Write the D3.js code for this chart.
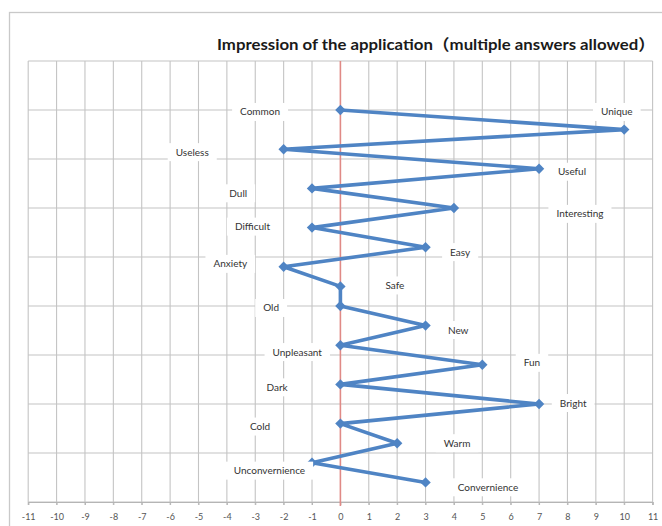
<!DOCTYPE html>
<html>
<head>
<meta charset="utf-8">
<script src="https://cdn.jsdelivr.net/npm/d3@7"></script>
<style>
  html, body { margin: 0; padding: 0; background: #fff; }
  svg { display: block; }
</style>
</head>
<body>
<svg id="chart" width="662" height="526"></svg>
<script>
// Survey answers: word pairs, score per word (negative = left side)
const words = ["Common", "Unique", "Useless", "Useful", "Dull", "Interesting",
  "Difficult", "Easy", "Anxiety", "Safe", "Old", "New", "Unpleasant", "Fun",
  "Dark", "Bright", "Cold", "Warm", "Unconvernience", "Convernience"];
const scores = [0, 10, -2, 7, -1, 4, -1, 3, -2, 0, 0, 3, 0, 5, 0, 7, 0, 2, -1, 3];
// vertical slot of each word on the hidden 0–45 axis
const rows = [40, 38, 36, 34, 32, 30, 28, 26, 24, 22, 20, 18, 16, 14, 12, 10, 8, 6, 4, 2];
const xTicks = d3.range(-11, 12);
const yTicks = d3.range(0, 46, 5);
const title = "Impression of the application（multiple answers allowed）";

const svg = d3.select("#chart");
const x = d3.scaleLinear().domain([-11, 11]).range([28.2, 652.6]);
const y = d3.scaleLinear().domain([0, 45]).range([502, 61]);

// chart-area frame
svg.append("rect")
  .attr("x", 9.5).attr("y", 12.5).attr("width", 700).attr("height", 560)
  .attr("fill", "#fff").attr("stroke", "#c9c9c9").attr("stroke-width", 1.3);

// title
svg.append("text")
  .attr("x", 655).attr("y", 50)
  .attr("text-anchor", "end")
  .attr("font-family", "Lato, 'Noto Sans CJK JP', sans-serif")
  .attr("font-weight", "bold")
  .attr("font-size", 15.5)
  .attr("fill", "#1a1a1a")
  .attr("textLength", 438)
  .attr("lengthAdjust", "spacingAndGlyphs")
  .text(title);

// grid
const grid = svg.append("g").attr("stroke", "#c4c4c4").attr("stroke-width", 1.1);
grid.selectAll("line.v").data(xTicks.filter(d => d !== 0)).join("line")
  .attr("x1", d => x(d)).attr("x2", d => x(d))
  .attr("y1", y(45)).attr("y2", y(0) + 3);
grid.selectAll("line.h").data(yTicks).join("line")
  .attr("x1", x(-11)).attr("x2", x(11))
  .attr("y1", d => y(d)).attr("y2", d => y(d));

// bottom axis
const xAxis = d3.axisBottom(x).tickValues(xTicks).tickSize(3).tickPadding(9)
  .tickFormat(d3.format("d"));
const ax = svg.append("g").attr("transform", `translate(0,${y(0)})`).call(xAxis);
ax.select(".domain").attr("stroke", "#b5b5b5").attr("stroke-width", 1.1);
ax.selectAll(".tick line").attr("stroke", "#b5b5b5");
ax.selectAll(".tick text")
  .attr("font-family", "Lato, sans-serif").attr("font-size", 9)
  .attr("fill", "#555").text(d => d < 0 ? "-" + Math.abs(d) : d);

// zero line
svg.append("line")
  .attr("x1", x(0)).attr("x2", x(0)).attr("y1", y(45)).attr("y2", y(0) + 4)
  .attr("stroke", "#e08a86").attr("stroke-width", 1.6);

// series
const pts = scores.map((s, i) => ({ word: words[i], v: s, r: rows[i] }));
const blue = "#4f84c4";
svg.append("path")
  .datum(pts)
  .attr("fill", "none").attr("stroke", blue).attr("stroke-width", 3.6)
  .attr("stroke-linejoin", "round").attr("stroke-linecap", "round")
  .attr("d", d3.line().x(d => x(d.v)).y(d => y(d.r)));
svg.append("g").selectAll("path").data(pts).join("path")
  .attr("transform", d => `translate(${x(d.v)},${y(d.r)})`)
  .attr("d", "M0,-5.2L5.2,0L0,5.2L-5.2,0Z")
  .attr("fill", blue);

// word labels, placed beside their points (offsets in axis units)
const labelOffset = {
  Common: [-2.83, -0.2], Unique: [-0.26, 1.8], Useless: [-3.22, -0.3],
  Useful: [1.16, -0.3], Dull: [-2.6, -0.5], Interesting: [4.44, -0.6],
  Difficult: [-2.1, 0.1], Easy: [1.22, -0.5], Anxiety: [-1.88, 0.3],
  Safe: [1.92, 0.1], Old: [-2.44, -0.2], New: [1.15, -0.45],
  Unpleasant: [-1.52, -0.7], Fun: [1.75, 0.2], Dark: [-2.23, -0.3],
  Bright: [1.2, 0.1], Cold: [-2.83, -0.3], Warm: [2.11, 0],
  Unconvernience: [-1.5, -0.8], Convernience: [2.2, -0.5]
};
const labels = svg.append("g");
pts.forEach(d => {
  const [dx, dy] = labelOffset[d.word];
  const cx = x(d.v + dx), cy = y(d.r + dy);
  const g = labels.append("g").attr("transform", `translate(${cx},${cy})`);
  const rect = g.append("rect").attr("fill", "#fff");
  const t = g.append("text")
    .attr("text-anchor", "middle").attr("dy", "0.35em")
    .attr("font-family", "Lato, sans-serif").attr("font-size", 10)
    .attr("fill", "#333").text(d.word);
  const w = t.node().getComputedTextLength();
  rect.attr("x", -w / 2 - 8).attr("y", -9).attr("width", w + 16).attr("height", 18);
});
</script>
</body>
</html>
